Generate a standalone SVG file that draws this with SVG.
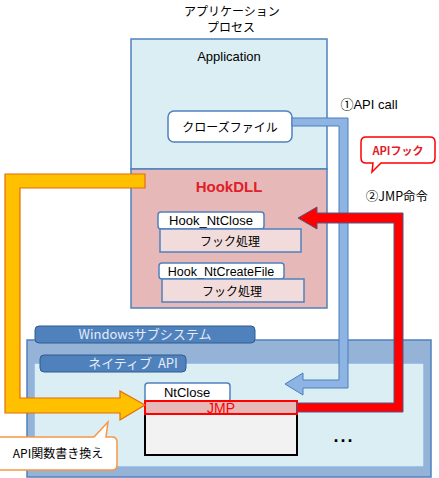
<svg xmlns="http://www.w3.org/2000/svg" width="439" height="478" viewBox="0 0 439 478">
<style>
text{font-family:"Liberation Sans","Noto Sans CJK JP",sans-serif;font-size:13px;fill:#000;text-anchor:middle}
.jp{font-family:"Noto Sans CJK JP","Liberation Sans",sans-serif;font-size:12px}
.box{stroke:#4F81BD;stroke-width:1.5}
.tab{fill:#4F81BD;stroke:#2F5C8F;stroke-width:1}
.tabt{fill:#E4ECF7;font-size:13px}
.white{fill:#fff;stroke:#4F81BD;stroke-width:1.5}
.pinkbox{fill:#F2DCDB;stroke:#4F81BD;stroke-width:1.5}
</style>
<rect width="439" height="478" fill="#fff"/>
<g id="title">
<text class="jp" x="232" y="16">アプリケーション</text>
<text class="jp" x="231" y="32">プロセス</text>
</g>
<g id="application">
<rect class="box" x="131" y="39" width="196" height="130" fill="#DBEEF4"/>
<text x="229" y="61">Application</text>
</g>
<g id="hookdll">
<rect class="box" x="131" y="169" width="196" height="139" fill="#E6B9B8"/>
<text x="229" y="192" style="fill:#E0202A;font-weight:bold;font-size:15px">HookDLL</text>
</g>
<g id="closefile">
<rect class="white" x="168" y="111" width="124" height="31" rx="6"/>
<text class="jp" x="230" y="132">クローズファイル</text>
</g>
<g id="hook-ntclose">
<rect class="white" x="158" y="212" width="106" height="17" rx="3"/>
<text x="211" y="225">Hook_NtClose</text>
<rect class="pinkbox" x="160" y="229" width="141" height="23"/>
<text class="jp" x="230" y="246">フック処理</text>
</g>
<g id="hook-ntcreatefile">
<rect class="white" x="159" y="263" width="125" height="16" rx="3"/>
<text x="221" y="276" style="font-size:12.5px">Hook_NtCreateFile</text>
<rect class="pinkbox" x="162" y="279" width="142" height="23"/>
<text class="jp" x="232" y="296">フック処理</text>
</g>
<g id="windows-subsystem">
<rect x="27" y="340" width="404" height="137" fill="#95B3D7" stroke="#4F81BD" stroke-width="1.5"/>
<rect class="tab" x="35" y="326" width="220" height="17" rx="4"/>
<text class="tabt jp" x="145" y="339" style="font-size:13px">Windowsサブシステム</text>
</g>
<g id="native-api">
<rect x="34" y="363" width="390" height="104" fill="#DBEEF4" stroke="#8EB4E3" stroke-width="1.5"/>
<rect class="tab" x="40" y="355" width="146" height="17" rx="4"/>
<text class="tabt jp" x="133" y="368" style="font-size:13px" xml:space="preserve">ネイティブ  API</text>
</g>
<g id="ntclose">
<rect class="white" x="145" y="383" width="85" height="19" rx="3"/>
<text x="187" y="397">NtClose</text>
<rect x="145" y="414" width="152" height="41" fill="#F2F2F2" stroke="#000" stroke-width="2"/>
<rect x="145" y="401" width="152" height="13" fill="#E6B9B8" stroke="#FF0000" stroke-width="2"/>
<text x="221" y="413" style="fill:#FF0000;font-size:14px">JMP</text>
</g>
<g id="dots">
<text x="344" y="442" style="font-weight:bold;font-size:18px;letter-spacing:2px">...</text>
</g>
<g id="connectors">
<polygon points="292,118 348,118 348,388 303,388 303,395 285,384 303,373 303,380 339,380 339,126 292,126" fill="#8EB4E3" stroke="#4A7EBB" stroke-width="1"/>
<polygon points="297,403 394,403 394,223 317,223 317,229 298,218 317,207 317,213 403,213 403,412 297,412" fill="#FF0000" stroke="#4A5A8A" stroke-width="1"/>
<polygon points="145,174 5,174 5,413 120,413 120,420 145,405 120,391 120,398 20,398 20,188 145,188" fill="#FFC000" stroke="#E46C0A" stroke-width="1.2"/>
</g>
<g id="label-apicall">
<text x="369" y="109">①API call</text>
</g>
<g id="label-jmp">
<text class="jp" x="397" y="201" style="font-size:12.5px">②JMP命令</text>
</g>
<g id="callout-apihook">
<path d="M366,137 H430 Q435,137 435,142 V158 Q435,163 430,163 H381 L372,172 L373,163 H366 Q361,163 361,158 V142 Q361,137 366,137 Z" fill="#fff" stroke="#FF0000" stroke-width="1.5"/>
<text class="jp" x="398" y="155" style="fill:#E0202A;font-weight:bold;font-size:11px">APIフック</text>
</g>
<g id="callout-rewrite">
<path d="M0,437 H94 L108,422 L106,437 H112 Q117,437 117,442 V465 Q117,470 112,470 H0" fill="#fff" stroke="#F79646" stroke-width="1.5"/>
<text class="jp" x="58" y="458">API関数書き換え</text>
</g>
</svg>
